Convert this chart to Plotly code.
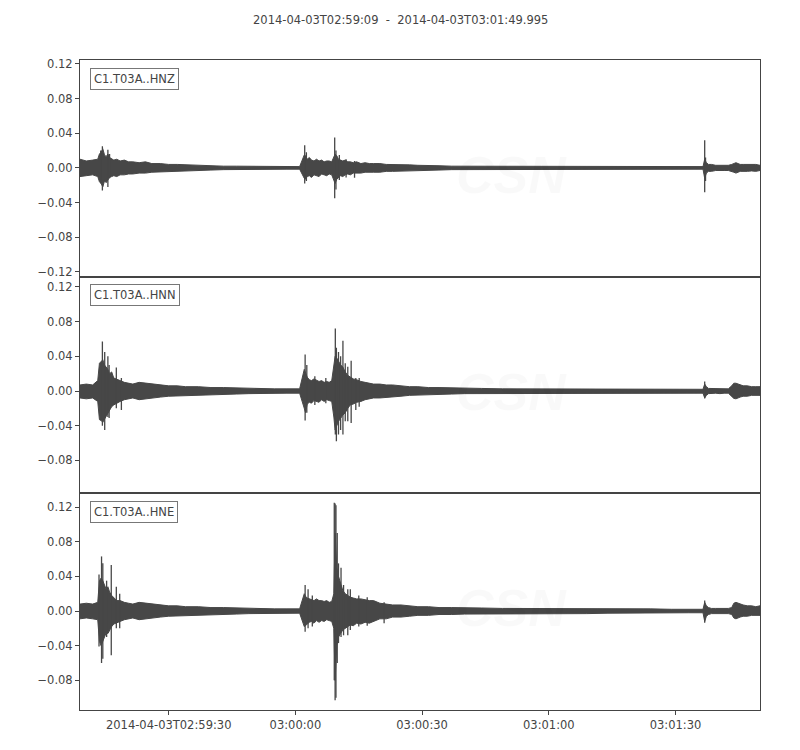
import numpy as np
import pandas as pd
import plotly.graph_objects as go
from plotly.subplots import make_subplots

START = "2014-04-03 02:59:09"
END = "2014-04-03 03:01:49.995"
TITLE = "2014-04-03T02:59:09\u00a0\u00a0-\u00a0\u00a02014-04-03T03:01:49.995"
CHANNELS = ["C1.T03A..HNZ", "C1.T03A..HNN", "C1.T03A..HNE"]

TICK_VALUES = ["2014-04-03 02:59:30", "2014-04-03 03:00:00", "2014-04-03 03:00:30",
               "2014-04-03 03:01:00", "2014-04-03 03:01:30"]
TICK_LABELS = ["2014-04-03T02:59:30", "03:00:00", "03:00:30", "03:01:00", "03:01:30"]
Y_TICKS = [-0.12, -0.08, -0.04, 0.0, 0.04, 0.08, 0.12]
Y_TICK_LABELS = ["\u22120.12", "\u22120.08", "\u22120.04", "0.00", "0.04", "0.08", "0.12"]

# envelope sample times (seconds after START)
TIME = [0, 1.5, 3,
        4.2, 4.6, 5.0, 5.4, 5.8, 6.2, 6.6, 7.0, 7.5, 8.0, 8.7, 9.5, 10.5, 11.5, 12.5,
        14, 15.5, 17, 19, 21, 23, 25, 28, 31, 34, 37, 40, 43, 46, 49, 52,
        53.1, 53.4, 53.8, 54.3, 54.8, 55.4, 56, 56.6, 57.2, 57.8, 58.4, 59, 59.6,
        60.1, 60.4, 60.8, 61.2, 61.7, 62.2, 62.8, 63.4, 64, 64.7, 65.5, 66.5, 67.5, 68.5, 69.5,
        71, 72.5, 74, 76, 78, 80, 82.5, 85, 88, 91, 95, 100, 105, 110, 115, 120, 125, 130, 135, 140, 144,
        147.5, 147.9, 148.3, 148.8, 149.5, 150.5, 151.5, 152.5, 153.5,
        154.3, 154.8, 155.3, 155.8, 156.3, 157, 158, 159, 160, 161]

# ---------- HNZ ----------
UP_Z = [0.010, 0.008, 0.009,
        0.010, 0.016, 0.018, 0.022, 0.015, 0.013, 0.016, 0.012, 0.010, 0.009, 0.010, 0.008, 0.009, 0.007, 0.007,
        0.006, 0.007, 0.005, 0.005, 0.004, 0.004, 0.0035, 0.003, 0.0025, 0.002, 0.002, 0.0018, 0.0015, 0.0015, 0.0015, 0.0015,
        0.015, 0.014, 0.010, 0.012, 0.009, 0.008, 0.010, 0.008, 0.009, 0.007, 0.008, 0.008, 0.007,
        0.012, 0.016, 0.014, 0.010, 0.009, 0.008, 0.009, 0.007, 0.007, 0.006, 0.007, 0.005, 0.006, 0.005, 0.005,
        0.005, 0.004, 0.004, 0.0035, 0.0035, 0.003, 0.003, 0.0025, 0.002, 0.002, 0.0018, 0.0015, 0.0015, 0.0015, 0.0015, 0.0015, 0.0015, 0.0015, 0.0015, 0.0015, 0.0015,
        0.0015, 0.010, 0.006, 0.004, 0.004, 0.003, 0.003, 0.003, 0.003,
        0.004, 0.005, 0.006, 0.005, 0.004, 0.004, 0.004, 0.0035, 0.004, 0.003]
LO_Z = [-0.010, -0.009, -0.008,
        -0.010, -0.016, -0.018, -0.022, -0.015, -0.017, -0.014, -0.011, -0.010, -0.009, -0.010, -0.008, -0.008, -0.007, -0.007,
        -0.006, -0.006, -0.005, -0.005, -0.004, -0.004, -0.0035, -0.003, -0.0025, -0.002, -0.002, -0.0018, -0.0015, -0.0015, -0.0015, -0.0015,
        -0.012, -0.013, -0.010, -0.009, -0.011, -0.008, -0.009, -0.010, -0.007, -0.008, -0.009, -0.007, -0.008,
        -0.014, -0.018, -0.013, -0.011, -0.009, -0.010, -0.008, -0.007, -0.008, -0.006, -0.006, -0.006, -0.005, -0.005, -0.005,
        -0.005, -0.004, -0.004, -0.0035, -0.0035, -0.003, -0.003, -0.0025, -0.002, -0.002, -0.0018, -0.0015, -0.0015, -0.0015, -0.0015, -0.0015, -0.0015, -0.0015, -0.0015, -0.0015, -0.0015,
        -0.0015, -0.012, -0.006, -0.004, -0.004, -0.003, -0.003, -0.003, -0.003,
        -0.004, -0.005, -0.006, -0.005, -0.004, -0.004, -0.004, -0.0035, -0.004, -0.003]
SPK_T_Z = [4.9, 5.3, 6.6, 7.0, 53.2, 53.6, 60.3, 60.6, 61.4, 63.0, 65.0, 147.9, 148.1]
SPK_HI_Z = [0.020, 0.025, 0.021, 0.016, 0.026, 0.018, 0.035, 0.020, 0.015, 0.010, 0.008, 0.032, 0.012]
SPK_LO_Z = [-0.018, -0.026, -0.022, -0.012, -0.018, -0.015, -0.035, -0.025, -0.014, -0.011, -0.0115, -0.028, -0.015]

# ---------- HNN ----------
UP_N = [0.007, 0.008, 0.007,
        0.012, 0.032, 0.034, 0.036, 0.030, 0.028, 0.025, 0.020, 0.022, 0.015, 0.014, 0.012, 0.010, 0.009, 0.008,
        0.010, 0.009, 0.008, 0.007, 0.006, 0.006, 0.005, 0.005, 0.004, 0.004, 0.0035, 0.003, 0.003, 0.0025, 0.0025, 0.0025,
        0.025, 0.020, 0.016, 0.013, 0.012, 0.014, 0.012, 0.011, 0.012, 0.010, 0.011, 0.010, 0.012,
        0.030, 0.040, 0.038, 0.035, 0.030, 0.028, 0.022, 0.018, 0.016, 0.014, 0.013, 0.011, 0.010, 0.009, 0.008,
        0.008, 0.007, 0.007, 0.006, 0.005, 0.005, 0.004, 0.004, 0.0035, 0.003, 0.003, 0.0025, 0.0025, 0.0025, 0.0025, 0.0025, 0.0025, 0.002, 0.002, 0.002, 0.002,
        0.002, 0.008, 0.005, 0.003, 0.003, 0.0025, 0.0025, 0.0025, 0.0025,
        0.006, 0.009, 0.009, 0.008, 0.007, 0.006, 0.006, 0.005, 0.005, 0.005]
LO_N = [-0.008, -0.009, -0.008,
        -0.012, -0.033, -0.034, -0.036, -0.032, -0.028, -0.025, -0.022, -0.018, -0.016, -0.014, -0.012, -0.010, -0.009, -0.008,
        -0.010, -0.009, -0.008, -0.007, -0.006, -0.006, -0.005, -0.005, -0.004, -0.004, -0.0035, -0.003, -0.003, -0.0025, -0.0025, -0.0025,
        -0.020, -0.025, -0.015, -0.013, -0.014, -0.011, -0.012, -0.013, -0.010, -0.012, -0.010, -0.011, -0.012,
        -0.030, -0.045, -0.040, -0.035, -0.032, -0.028, -0.025, -0.020, -0.016, -0.015, -0.013, -0.012, -0.010, -0.009, -0.008,
        -0.008, -0.007, -0.007, -0.006, -0.005, -0.005, -0.004, -0.004, -0.0035, -0.003, -0.003, -0.003, -0.003, -0.003, -0.003, -0.003, -0.003, -0.0025, -0.0025, -0.0025, -0.0025,
        -0.0025, -0.008, -0.005, -0.003, -0.003, -0.0025, -0.003, -0.0025, -0.0025,
        -0.006, -0.0085, -0.009, -0.008, -0.007, -0.006, -0.006, -0.005, -0.005, -0.005]
SPK_T_N = [5.3, 5.85, 6.6, 6.9, 8.6, 9.8, 53.3, 53.7, 55.6, 58.2,
           60.45, 60.7, 61.2, 61.7, 62.25, 62.8, 63.4, 64.2, 65.3, 66.1, 147.9]
SPK_HI_N = [0.057, 0.045, 0.040, 0.030, 0.027, 0.015, 0.042, 0.030, 0.017, 0.015,
            0.072, 0.050, 0.045, 0.040, 0.058, 0.032, 0.028, 0.035, 0.015, 0.015, 0.011]
SPK_LO_N = [-0.040, -0.045, -0.030, -0.031, -0.020, -0.022, -0.034, -0.025, -0.016, -0.014,
            -0.050, -0.058, -0.050, -0.045, -0.050, -0.035, -0.035, -0.037, -0.022, -0.018, -0.0085]

# ---------- HNE ----------
UP_E = [0.008, 0.009, 0.008,
        0.010, 0.035, 0.038, 0.035, 0.030, 0.025, 0.028, 0.022, 0.018, 0.015, 0.012, 0.012, 0.010, 0.009, 0.008,
        0.010, 0.009, 0.008, 0.007, 0.006, 0.006, 0.005, 0.005, 0.004, 0.004, 0.0035, 0.003, 0.0025, 0.0025, 0.0025, 0.0025,
        0.020, 0.017, 0.015, 0.014, 0.013, 0.012, 0.014, 0.012, 0.012, 0.011, 0.012, 0.010, 0.011,
        0.020, 0.090, 0.050, 0.040, 0.032, 0.024, 0.020, 0.018, 0.016, 0.015, 0.014, 0.014, 0.013, 0.012, 0.012,
        0.009, 0.008, 0.007, 0.007, 0.006, 0.005, 0.005, 0.004, 0.004, 0.0035, 0.0035, 0.003, 0.003, 0.003, 0.003, 0.003, 0.0025, 0.0025, 0.0025, 0.002, 0.002,
        0.002, 0.010, 0.006, 0.004, 0.003, 0.003, 0.003, 0.003, 0.003,
        0.004, 0.009, 0.010, 0.009, 0.008, 0.007, 0.006, 0.006, 0.005, 0.006]
LO_E = [-0.009, -0.008, -0.009,
        -0.010, -0.035, -0.040, -0.035, -0.030, -0.025, -0.026, -0.022, -0.018, -0.015, -0.014, -0.012, -0.010, -0.009, -0.008,
        -0.010, -0.009, -0.008, -0.007, -0.006, -0.006, -0.005, -0.005, -0.004, -0.004, -0.0035, -0.003, -0.0025, -0.0025, -0.0025, -0.0025,
        -0.018, -0.016, -0.015, -0.013, -0.012, -0.014, -0.011, -0.013, -0.011, -0.012, -0.010, -0.011, -0.012,
        -0.020, -0.080, -0.040, -0.030, -0.026, -0.022, -0.020, -0.018, -0.016, -0.017, -0.014, -0.015, -0.013, -0.014, -0.012,
        -0.009, -0.009, -0.007, -0.007, -0.006, -0.005, -0.005, -0.004, -0.004, -0.0035, -0.0035, -0.003, -0.003, -0.003, -0.003, -0.003, -0.0025, -0.0025, -0.0025, -0.002, -0.002,
        -0.002, -0.012, -0.006, -0.004, -0.003, -0.003, -0.003, -0.003, -0.003,
        -0.004, -0.008, -0.009, -0.008, -0.007, -0.006, -0.006, -0.005, -0.005, -0.005]
SPK_T_E = [4.5, 5.1, 5.4, 6.3, 7.4, 8.6, 9.4, 53.3, 54.0, 55.0,
           60.2, 60.4, 60.6, 60.9, 61.2, 61.8, 62.4, 63.4, 64.0, 66.0, 68.0, 72.0, 147.9]
SPK_HI_E = [0.042, 0.063, 0.055, 0.035, 0.053, 0.028, 0.020, 0.030, 0.025, 0.018,
            0.125, 0.124, 0.122, 0.090, 0.055, 0.050, 0.030, 0.025, 0.025, 0.018, 0.016, 0.010, 0.012]
SPK_LO_E = [-0.041, -0.060, -0.055, -0.030, -0.051, -0.020, -0.020, -0.024, -0.020, -0.018,
            -0.080, -0.103, -0.100, -0.060, -0.037, -0.030, -0.028, -0.028, -0.022, -0.018, -0.017, -0.014, -0.0135]

Y_RANGES = [[-0.1255, 0.1245], [-0.118, 0.1319], [-0.1142, 0.1358]]

INK = "#474747"
TXT = "#444444"
FONT = "DejaVu Sans"

start = pd.Timestamp(START)


def to_dates(seconds):
    return [(start + pd.Timedelta(seconds=float(s))).strftime("%Y-%m-%d %H:%M:%S.%f") for s in seconds]


series = [(UP_Z, LO_Z, SPK_T_Z, SPK_HI_Z, SPK_LO_Z),
          (UP_N, LO_N, SPK_T_N, SPK_HI_N, SPK_LO_N),
          (UP_E, LO_E, SPK_T_E, SPK_HI_E, SPK_LO_E)]

fig = make_subplots(rows=3, cols=1, shared_xaxes=True, vertical_spacing=0)

tdates = to_dates(TIME)
for i, (up, lo, st, sh, sl) in enumerate(series):
    assert len(up) == len(TIME) and len(lo) == len(TIME)
    assert len(st) == len(sh) == len(sl)
    fig.add_trace(go.Scatter(
        x=tdates + tdates[::-1], y=list(up) + list(lo)[::-1],
        mode="lines", fill="toself", fillcolor=INK,
        line=dict(color=INK, width=1), hoverinfo="skip", showlegend=False),
        row=i + 1, col=1)
    sd = to_dates(st)
    xs, ys = [], []
    for d, h, l in zip(sd, sh, sl):
        xs += [d, d, None]
        ys += [h, l, None]
    fig.add_trace(go.Scatter(
        x=xs, y=ys, mode="lines", line=dict(color=INK, width=1.3),
        hoverinfo="skip", showlegend=False), row=i + 1, col=1)

for i in range(3):
    r = i + 1
    fig.update_yaxes(range=Y_RANGES[i], tickvals=Y_TICKS, ticktext=Y_TICK_LABELS,
                     showgrid=False, zeroline=False, showline=True, mirror=True,
                     linecolor=TXT, linewidth=1, ticks="outside", ticklen=4,
                     tickcolor=TXT, tickfont=dict(family=FONT, size=11.5, color=TXT),
                     row=r, col=1)
    fig.update_xaxes(range=[START, END], type="date", showgrid=False, zeroline=False,
                     showline=True, mirror=True, linecolor=TXT, linewidth=1,
                     tickvals=TICK_VALUES, ticktext=TICK_LABELS,
                     ticks="outside" if r == 3 else "", ticklen=4, tickcolor=TXT,
                     showticklabels=(r == 3),
                     tickfont=dict(family=FONT, size=11.5, color=TXT),
                     row=r, col=1)

annotations = []
for i, ch in enumerate(CHANNELS):
    xr = "x domain" if i == 0 else f"x{i + 1} domain"
    yr = "y domain" if i == 0 else f"y{i + 1} domain"
    annotations.append(dict(text=ch, xref=xr, yref=yr, x=0.015, y=0.965,
                            xanchor="left", yanchor="top", showarrow=False,
                            font=dict(family=FONT, size=11.5, color=TXT),
                            bgcolor="white", bordercolor="#777777", borderwidth=1,
                            borderpad=3))
    wm = "rgba(0,0,0,0.025)"
    annotations.append(dict(text="<b><i>CSN</i></b>", xref=xr, yref=yr, x=0.55, y=0.47,
                            xanchor="left", yanchor="middle", showarrow=False,
                            font=dict(family="Liberation Sans", size=52, color=wm)))
    annotations.append(dict(text="<i>CENTRO SISMOLÓGICO NACIONAL</i>", xref=xr, yref=yr,
                            x=0.66, y=0.248, xanchor="left", yanchor="middle", showarrow=False,
                            font=dict(family="Liberation Sans", size=12.5, color=wm)))
    annotations.append(dict(text="<i>UNIVERSIDAD DE CHILE</i>", xref=xr, yref=yr,
                            x=0.656, y=0.160, xanchor="left", yanchor="middle", showarrow=False,
                            font=dict(family="Liberation Sans", size=12.5, color=wm)))

annotations.append(dict(text=TITLE, xref="paper", yref="paper", x=0.5, y=1,
                        yshift=40, xshift=-20, xanchor="center", yanchor="middle",
                        showarrow=False, font=dict(family=FONT, size=11.5, color=TXT)))

# the page body adds an 8 px offset, so the figure is sized 8 px smaller
fig.update_layout(width=792, height=742, margin=dict(l=72, r=40, t=52, b=40),
                  paper_bgcolor="white", plot_bgcolor="white",
                  annotations=annotations, showlegend=False)

fig.write_html("out.html")
